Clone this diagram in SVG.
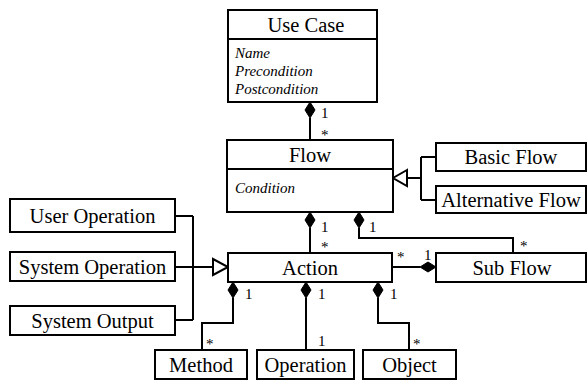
<svg xmlns="http://www.w3.org/2000/svg" width="587" height="381" viewBox="0 0 587 381">
<style>
.box{fill:#fff;stroke:#000;stroke-width:2}
.ln{fill:none;stroke:#000;stroke-width:2}
.dia{fill:#000;stroke:#000;stroke-width:1}
.tri{fill:#fff;stroke:#000;stroke-width:2}
text{font-family:'Liberation Serif','Times New Roman',serif;fill:#000}
.t{font-size:20.5px;text-anchor:middle}
.a{font-size:15px;font-style:italic}
.m{font-size:15px}
</style>
<rect width="587" height="381" fill="#fff"/>
<g id="connectors">
<path class="ln" d="M310,118 V140"/>
<path class="ln" d="M310,228 V253"/>
<path class="ln" d="M359,228 V238 H513 V253"/>
<path class="ln" d="M392,267 H420"/>
<path class="ln" d="M233,298 V323 H202 V350"/>
<path class="ln" d="M306,298 V350"/>
<path class="ln" d="M378,298 V323 H409 V350"/>
<path class="ln" d="M407,178 H421 M421,157 V200 M421,157 H436 M421,200 H436"/>
<path class="ln" d="M175,216 H193 M193,216 V320 M175,320 H193 M175,267 H213"/>
<polygon class="tri" points="407,170 393,178 407,186"/>
<polygon class="tri" points="213,259 228,267 213,275"/>
<polygon class="dia" points="310,102 315,110 310,118 305,110"/>
<polygon class="dia" points="310,212 315,220 310,228 305,220"/>
<polygon class="dia" points="359,212 364,220 359,228 354,220"/>
<polygon class="dia" points="436,267 428,272 420,267 428,262"/>
<polygon class="dia" points="233,282 238,290 233,298 228,290"/>
<polygon class="dia" points="306,282 311,290 306,298 301,290"/>
<polygon class="dia" points="378,282 383,290 378,298 373,290"/>
<text class="m" x="321" y="118">1</text>
<text class="m" x="321" y="140">*</text>
<text class="m" x="321" y="232">1</text>
<text class="m" x="321" y="252">*</text>
<text class="m" x="369" y="232">1</text>
<text class="m" x="520" y="251">*</text>
<text class="m" x="397" y="262">*</text>
<text class="m" x="424" y="260">1</text>
<text class="m" x="245" y="299">1</text>
<text class="m" x="206" y="349">*</text>
<text class="m" x="318" y="299">1</text>
<text class="m" x="318" y="346">1</text>
<text class="m" x="390" y="299">1</text>
<text class="m" x="413" y="349">*</text>
</g>
<g id="usecase">
<rect class="box" x="228" y="10" width="149" height="92"/>
<path class="ln" d="M228,39 H377"/>
<text class="t" x="306" y="32">Use Case</text>
<text class="a" x="235" y="58">Name</text>
<text class="a" x="235" y="76">Precondition</text>
<text class="a" x="235" y="94">Postcondition</text>
</g>
<g id="flow">
<rect class="box" x="227" y="140" width="166" height="72"/>
<path class="ln" d="M227,169 H393"/>
<text class="t" x="310" y="162">Flow</text>
<text class="a" x="235" y="193">Condition</text>
</g>
<g id="basicflow">
<rect class="box" x="436" y="143" width="150" height="28"/>
<text class="t" x="511" y="164">Basic Flow</text>
</g>
<g id="altflow">
<rect class="box" x="436" y="186" width="150" height="27"/>
<text class="t" x="511" y="207">Alternative Flow</text>
</g>
<g id="action">
<rect class="box" x="228" y="253" width="164" height="29"/>
<text class="t" x="310" y="275">Action</text>
</g>
<g id="subflow">
<rect class="box" x="436" y="253" width="150" height="29"/>
<text class="t" x="512" y="275">Sub Flow</text>
</g>
<g id="userop">
<rect class="box" x="10" y="199" width="165" height="33"/>
<text class="t" x="92.5" y="223">User Operation</text>
</g>
<g id="sysop">
<rect class="box" x="10" y="252" width="165" height="29"/>
<text class="t" x="92.5" y="274">System Operation</text>
</g>
<g id="sysout">
<rect class="box" x="10" y="306" width="165" height="29"/>
<text class="t" x="92.5" y="328">System Output</text>
</g>
<g id="method">
<rect class="box" x="155" y="350" width="92" height="29"/>
<text class="t" x="201" y="372">Method</text>
</g>
<g id="operation">
<rect class="box" x="257" y="350" width="97" height="29"/>
<text class="t" x="305.5" y="372">Operation</text>
</g>
<g id="object">
<rect class="box" x="363" y="350" width="93" height="29"/>
<text class="t" x="409.5" y="372">Object</text>
</g>
</svg>
